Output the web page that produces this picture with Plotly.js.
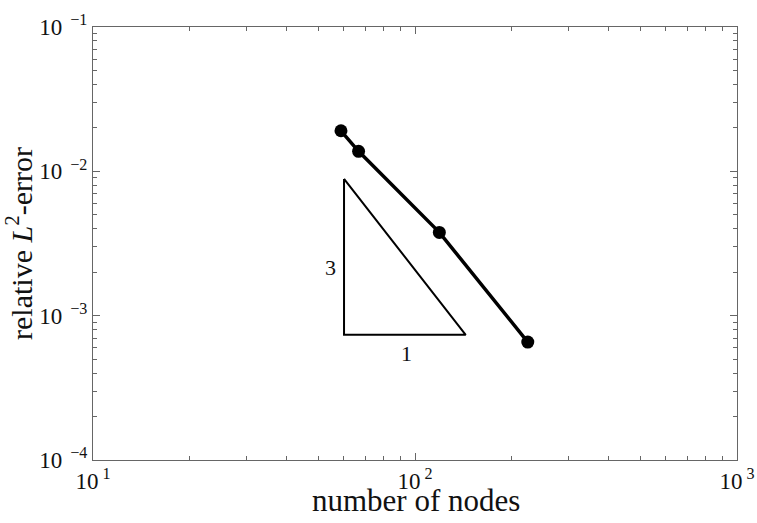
<!DOCTYPE html>
<html>
<head>
<meta charset="utf-8">
<script src="https://cdn.plot.ly/plotly-3.0.1.min.js"></script>
<style>
  html, body { margin: 0; padding: 0; background: #fff; }
  #chart { width: 757px; height: 523px; }
</style>
</head>
<body>
<div id="chart"></div>
<script>
// Convergence study: relative L2 error against number of nodes
const nodes = [58.9, 66.8, 119, 224];
const relError = [0.0191, 0.01377, 0.003776, 0.000656];

// Slope reference triangle (rise 3 over run 1 on log-log axes)
const triX = [60.2, 60.2, 143.7, 60.2];
const triY = [0.00886, 0.000737, 0.000737, 0.00886];

// Decade ticks and labels
const xDecades = [10, 100, 1000];
const xDecadeLabels = ['10<sup> 1</sup>', '10<sup> 2</sup>', '10<sup> 3</sup>'];
const yDecades = [0.0001, 0.001, 0.01, 0.1];
const yDecadeLabels = ['10<sup>  \u22124</sup>', '10<sup>  \u22123</sup>', '10<sup>  \u22122</sup>', '10<sup>  \u22121</sup>'];

// Minor ticks at 2..9 within each decade
function minorsFor(decades) {
  const out = [];
  for (let i = 0; i < decades.length - 1; i++) {
    for (let k = 2; k <= 9; k++) out.push(decades[i] * k);
  }
  return out;
}

const serif = "'Liberation Serif', 'DejaVu Serif', serif";
const axisColor = '#666666';
const textColor = '#111111';

const traces = [
  {
    x: triX, y: triY, type: 'scatter', mode: 'lines',
    line: { color: '#000', width: 2 }, hoverinfo: 'skip', showlegend: false
  },
  {
    x: nodes, y: relError, type: 'scatter', mode: 'lines+markers',
    line: { color: '#000', width: 3.5 },
    marker: { color: '#000', size: 13 },
    showlegend: false
  }
];

const commonAxis = {
  type: 'log',
  showline: true, linecolor: axisColor, linewidth: 1, mirror: 'ticks',
  ticks: 'inside', ticklen: 7, tickwidth: 1, tickcolor: axisColor,
  showgrid: false, zeroline: false,
  tickmode: 'array',
  tickfont: { family: serif, size: 23, color: textColor }
};

const layout = {
  width: 757, height: 523,
  margin: { l: 93, r: 20, t: 27, b: 63 },
  paper_bgcolor: '#fff', plot_bgcolor: '#fff',
  font: { family: serif, color: textColor },
  xaxis: Object.assign({}, commonAxis, {
    range: [1, 3],
    tickvals: xDecades, ticktext: xDecadeLabels,
    minor: { tickmode: 'array', tickvals: minorsFor(xDecades), ticks: 'inside', ticklen: 4, tickcolor: axisColor, tickwidth: 1 }
  }),
  yaxis: Object.assign({}, commonAxis, {
    range: [-4, -1],
    tickvals: yDecades, ticktext: yDecadeLabels,
    minor: { tickmode: 'array', tickvals: minorsFor(yDecades), ticks: 'inside', ticklen: 4, tickcolor: axisColor, tickwidth: 1 },
    title: { text: 'relative <i>L</i><sup>2</sup>-error', font: { family: serif, size: 30, color: textColor }, standoff: 2 }
  }),
  annotations: [
    // x-axis title, placed just under the tick labels
    { x: 0.501, y: -0.093, xref: 'paper', yref: 'paper', xanchor: 'center', yanchor: 'middle',
      text: 'number of nodes', showarrow: false,
      font: { family: serif, size: 31, color: textColor } },
    // slope triangle side labels
    { x: Math.log10(54.8), y: Math.log10(0.00214), xref: 'x', yref: 'y', text: '3', showarrow: false,
      font: { family: serif, size: 22, color: textColor } },
    { x: Math.log10(93.8), y: Math.log10(0.000551), xref: 'x', yref: 'y', text: '1', showarrow: false,
      font: { family: serif, size: 22, color: textColor } }
  ]
};

Plotly.newPlot('chart', traces, layout, { displayModeBar: false, staticPlot: true });
</script>
</body>
</html>
